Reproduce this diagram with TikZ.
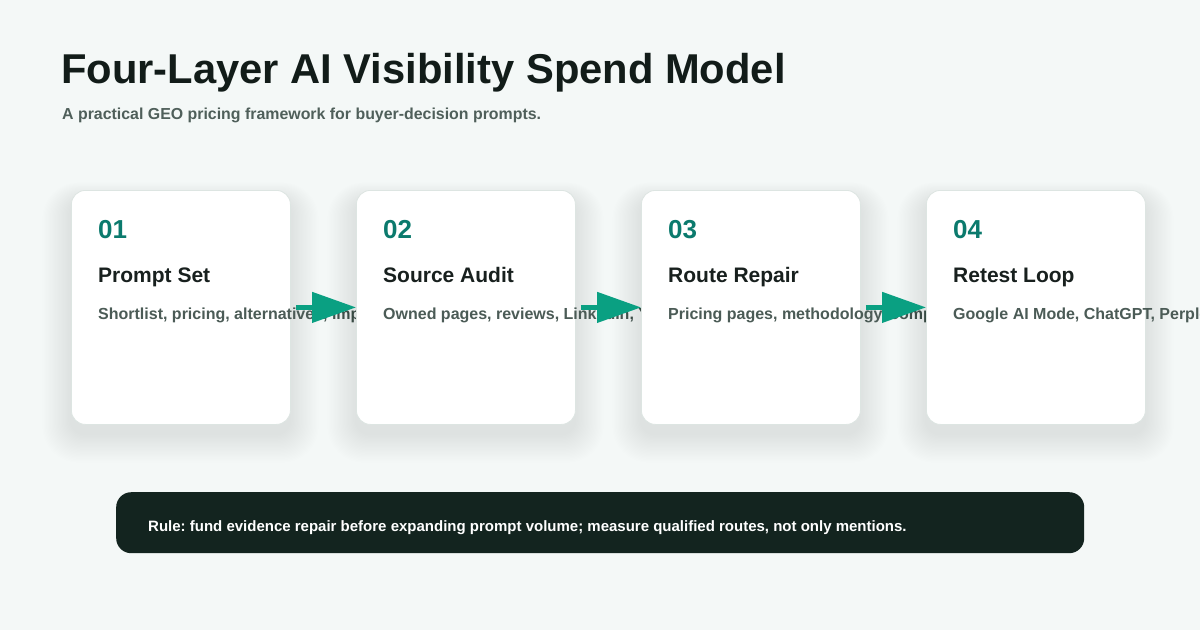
\documentclass[tikz,border=0pt]{standalone}
\usepackage{fontspec}
\setmainfont{Liberation Sans}
\frenchspacing
\usetikzlibrary{arrows.meta}
\definecolor{bgc}{HTML}{F4F8F7}
\definecolor{titlec}{HTML}{121C19}
\definecolor{subc}{HTML}{4F5F5A}
\definecolor{numc}{HTML}{0B7A6D}
\definecolor{headc}{HTML}{18201E}
\definecolor{descc}{HTML}{4B5B56}
\definecolor{arrowc}{HTML}{0AA082}
\definecolor{borderc}{HTML}{DDE5E2}
\definecolor{rulec}{HTML}{13241F}
\definecolor{shadowc}{HTML}{2A4A42}
\tikzset{
  card/.style={draw=borderc, line width=0.8pt, fill=white, rounded corners=14pt,
    minimum width=219pt, minimum height=234pt, inner sep=0pt, anchor=north west},
  num/.style={anchor=base west, inner sep=0pt, font=\bfseries\fontsize{26}{30}\selectfont, text=numc},
  head/.style={anchor=base west, inner sep=0pt, font=\bfseries\fontsize{21}{25}\selectfont, text=headc},
  desc/.style={anchor=base west, inner sep=0pt, font=\bfseries\fontsize{16}{19}\selectfont, text=descc},
  flow/.style={draw=arrowc, line width=4.5pt, -{Triangle[length=44pt,width=30pt]}, shorten <=5pt},
}
\newcommand{\cardshade}[2]{%
  \foreach \i in {1,...,22}{%
    \fill[shadowc, opacity=0.0035, rounded corners=14pt+\i pt]
      ({#1-\i*1.3},{#2-\i*0.8+10}) rectangle ({#1+219+\i*1.3},{#2+234+\i*1.3+10});
  }%
}
\begin{document}
\begin{tikzpicture}[x=1pt,y=-1pt]
\useasboundingbox (0,0) rectangle (1200,630);
\clip (0,0) rectangle (1200,630);
\fill[bgc] (0,0) rectangle (1200,630);
\node[anchor=base west, inner sep=0pt, font=\bfseries\fontsize{41.7}{48}\selectfont, text=titlec] (title) at (61,83) {Four-Layer AI Visibility Spend Model};
\node[anchor=base west, inner sep=0pt, font=\bfseries\fontsize{15.9}{18}\selectfont, text=subc] (sub) at (62,119) {A practical GEO pricing framework for buyer-decision prompts.};
% card 1
\cardshade{71}{190}
\node[card] (c1) at (71,190) {};
\node[num] (n1) at (98,238) {01};
\node[head] (h1) at (98,282) {Prompt Set};
\node[desc] (d1) at (98,319) {Shortlist, pricing, alternatives, implementation};
% card 2
\cardshade{356}{190}
\node[card] (c2) at (356,190) {};
\node[num] (n2) at (383,238) {02};
\node[head] (h2) at (383,282) {Source Audit};
\node[desc] (d2) at (383,319) {Owned pages, reviews, LinkedIn, YouTube};
% card 3
\cardshade{641}{190}
\node[card] (c3) at (641,190) {};
\node[num] (n3) at (668,238) {03};
\node[head] (h3) at (668,282) {Route Repair};
\node[desc] (d3) at (668,319) {Pricing pages, methodology, comparisons};
% card 4
\cardshade{926}{190}
\node[card] (c4) at (926,190) {};
\node[num] (n4) at (953,238) {04};
\node[head] (h4) at (953,282) {Retest Loop};
\node[desc] (d4) at (953,319) {Google AI Mode, ChatGPT, Perplexity};
% arrows
\draw[flow] (c1.east) -- (c2.west);
\draw[flow] (c2.east) -- (c3.west);
\draw[flow] (c3.east) -- (c4.west);
% rule
\node[fill=rulec, rounded corners=15pt, minimum width=968pt, minimum height=61pt, inner sep=0pt, anchor=north west] (rule) at (116,492) {};
\node[anchor=base west, inner sep=0pt, font=\bfseries\fontsize{15}{18}\selectfont, text=white] (ruletext) at (148,531) {Rule: fund evidence repair before expanding prompt volume; measure qualified routes, not only mentions.};
\end{tikzpicture}
\end{document}
